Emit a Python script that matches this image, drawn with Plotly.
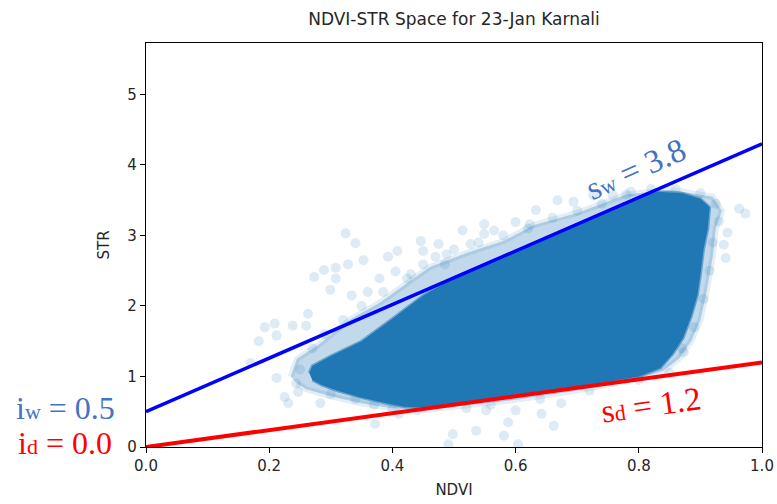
import plotly.graph_objects as go

# ---- data ----
ndvi_ends = [0.0, 1.0]
wet_intercept, wet_slope = 0.5, 3.8
dry_intercept, dry_slope = 0.0, 1.2

# dense core of the point cloud (outline)
core_x = [0.265, 0.27, 0.30, 0.35, 0.40, 0.45, 0.50, 0.55, 0.60, 0.65, 0.70, 0.75, 0.80, 0.83, 0.87, 0.90, 0.915,
          0.912, 0.905, 0.90, 0.895, 0.885, 0.872, 0.855, 0.835, 0.80, 0.75, 0.70, 0.65, 0.60, 0.55, 0.50, 0.45,
          0.42, 0.39, 0.35, 0.31, 0.285, 0.27]
core_y = [1.05, 1.15, 1.29, 1.50, 1.82, 2.15, 2.40, 2.59, 2.78, 2.97, 3.16, 3.35, 3.54, 3.62, 3.60, 3.52, 3.40,
          3.10, 2.80, 2.45, 2.15, 1.85, 1.55, 1.32, 1.12, 1.00, 0.92, 0.85, 0.78, 0.72, 0.66, 0.61, 0.56,
          0.57, 0.62, 0.70, 0.80, 0.88, 0.95]

# thinner halo around the core
halo_x = [0.235, 0.245, 0.28, 0.33, 0.38, 0.42, 0.46, 0.52, 0.58, 0.63, 0.70, 0.78, 0.85, 0.92, 0.935, 0.925,
          0.92, 0.91, 0.90, 0.885, 0.865, 0.84, 0.80, 0.70, 0.60, 0.50, 0.45, 0.40, 0.35, 0.30, 0.26, 0.245]
halo_y = [1.00, 1.25, 1.45, 1.80, 2.05, 2.30, 2.55, 2.75, 2.92, 3.15, 3.32, 3.58, 3.65, 3.55, 3.35, 3.10,
          2.70, 2.20, 1.80, 1.50, 1.25, 1.08, 0.97, 0.80, 0.67, 0.57, 0.52, 0.55, 0.62, 0.72, 0.82, 0.90]

# scattered individual points
pts_x = [0.324, 0.340, 0.393, 0.408, 0.353, 0.273, 0.289, 0.308, 0.328, 0.308, 0.299, 0.334, 0.193, 0.209,
         0.183, 0.212, 0.238, 0.263, 0.260, 0.170, 0.212, 0.225, 0.231, 0.244, 0.247, 0.283,
         0.372, 0.411, 0.498, 0.491, 0.536, 0.581, 0.588, 0.604, 0.662, 0.552, 0.600, 0.674, 0.642,
         0.446, 0.450, 0.475, 0.485, 0.514, 0.527, 0.549, 0.549, 0.565, 0.600, 0.633, 0.668, 0.694,
         0.726, 0.758, 0.787, 0.623, 0.405, 0.424, 0.379, 0.385, 0.360, 0.450, 0.488,
         0.963, 0.973, 0.944, 0.941, 0.938, 0.873,
         0.430, 0.470, 0.500, 0.540, 0.580, 0.620, 0.660, 0.700, 0.740, 0.780, 0.820, 0.860, 0.900,
         0.925, 0.930, 0.920, 0.915, 0.905, 0.890, 0.870, 0.250, 0.270, 0.290, 0.320, 0.350, 0.300,
         0.340, 0.370, 0.400, 0.440, 0.520, 0.560, 0.640, 0.720, 0.800, 0.850]
pts_y = [3.03, 2.89, 2.70, 2.78, 2.65, 2.41, 2.51, 2.54, 2.59, 2.39, 2.23, 2.15, 1.70, 1.75,
         1.50, 1.58, 1.72, 1.89, 1.72, 1.19, 0.98, 0.71, 0.62, 0.90, 0.78, 0.62,
         0.33, 0.47, 0.18, 0.04, 0.23, 0.16, 0.35, 0.04, 0.30, 0.52, 0.52, 0.62, 0.47,
         2.92, 2.78, 2.88, 2.59, 3.07, 2.88, 3.16, 3.02, 3.07, 3.19, 3.36, 3.50, 3.48,
         3.57, 3.57, 3.62, 3.16, 2.49, 2.39, 2.39, 2.20, 2.20, 2.59, 2.73,
         3.38, 3.31, 3.04, 2.68, 2.87, 1.34,
         2.45, 2.70, 2.80, 2.90, 3.00, 3.10, 3.25, 3.35, 3.45, 3.58, 3.66, 3.66, 3.60,
         3.45, 3.20, 2.90, 2.50, 2.10, 1.70, 1.40, 1.10, 1.40, 1.60, 1.80, 2.00, 0.75,
         0.68, 0.60, 0.55, 0.52, 0.55, 0.60, 0.68, 0.80, 0.95, 1.05]

x_ticks = [0.0, 0.2, 0.4, 0.6, 0.8, 1.0]
x_tick_labels = ["0.0", "0.2", "0.4", "0.6", "0.8", "1.0"]
y_ticks = [0, 1, 2, 3, 4, 5]

PT = "#1f77b4"

fig = go.Figure()
fig.add_trace(go.Scatter(x=halo_x, y=halo_y, mode="lines", fill="toself",
                         fillcolor="rgba(31,119,180,0.28)", line=dict(width=6, color="rgba(31,119,180,0.12)"),
                         hoverinfo="skip"))
fig.add_trace(go.Scatter(x=pts_x, y=pts_y, mode="markers",
                         marker=dict(size=10, color=PT, opacity=0.15, line=dict(width=0))))
fig.add_trace(go.Scatter(x=core_x, y=core_y, mode="lines", fill="toself",
                         fillcolor=PT, line=dict(width=3, color="rgba(31,119,180,0.55)"), hoverinfo="skip"))

wet_y = [wet_intercept + wet_slope * v for v in ndvi_ends]
dry_y = [dry_intercept + dry_slope * v for v in ndvi_ends]
fig.add_trace(go.Scatter(x=ndvi_ends, y=wet_y, mode="lines", line=dict(color="#0000ff", width=3.5)))
fig.add_trace(go.Scatter(x=ndvi_ends, y=dry_y, mode="lines", line=dict(color="#ff0000", width=4)))

serif = "Liberation Serif, Times New Roman, serif"
BLUE_T = "#4472c4"


def lbl(base, sub, rest):
    return f'{base}<span style="font-size:22px">{sub}</span>{rest}'


ann = [
    dict(x=-0.131, xref="paper", y=0.56, yref="y", text=lbl("i", "w", " = 0.5"),
         font=dict(family=serif, size=32, color=BLUE_T)),
    dict(x=-0.131, xref="paper", y=0.06, yref="y", text=lbl("i", "d", " = 0.0"),
         font=dict(family=serif, size=32, color="#ff0000")),
    dict(x=0.795, xref="x", y=3.95, yref="y", text=lbl("s", "w", " = 3.8"), textangle=-24,
         font=dict(family=serif, size=33, color=BLUE_T)),
    dict(x=0.82, xref="x", y=0.6, yref="y", text=lbl("s", "d", " = 1.2"), textangle=-8,
         font=dict(family=serif, size=33, color="#ff0000")),
]
for a in ann:
    a.update(showarrow=False, xanchor="center", yanchor="middle")

axis_common = dict(showline=True, linecolor="black", linewidth=1.2, mirror=True, automargin=False,
                   ticks="outside", ticklen=5, tickcolor="black", showgrid=False, zeroline=False,
                   tickfont=dict(family="DejaVu Sans", size=15, color="#262626"))

fig.update_layout(
    width=777, height=504,
    margin=dict(l=146, r=15, t=43, b=57, autoexpand=False),
    paper_bgcolor="white", plot_bgcolor="white",
    showlegend=False,
    title=dict(text="NDVI-STR Space for 23-Jan Karnali", x=(146 + 308) / 777, xanchor="center",
               y=1 - 19 / 504, yanchor="middle",
               font=dict(family="DejaVu Sans", size=17, color="#262626")),
    xaxis=dict(range=[0, 1], tickvals=x_ticks, ticktext=x_tick_labels,
               title=dict(text="NDVI", font=dict(family="DejaVu Sans", size=15, color="#262626"), standoff=10),
               **axis_common),
    yaxis=dict(range=[0, 5.73], tickvals=y_ticks,
               title=dict(text="STR", font=dict(family="DejaVu Sans", size=15, color="#262626"), standoff=14),
               **axis_common),
    annotations=ann,
)

fig.write_html("out.html")
